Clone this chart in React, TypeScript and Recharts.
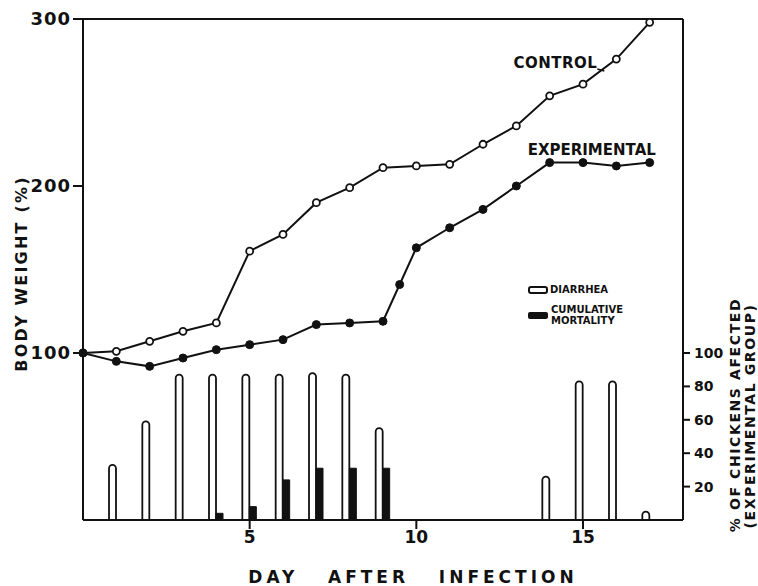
import React from 'react';
import { ComposedChart, Line, Bar, XAxis, YAxis, ReferenceLine, Legend, LabelList } from 'recharts';

const days = [0, 1, 2, 3, 4, 5, 6, 7, 8, 9, 10, 11, 12, 13, 14, 15, 16, 17];
const control = [100, 101, 107, 113, 118, 161, 171, 190, 199, 211, 212, 213, 225, 236, 254, 261, 276, 298];
const experimental = [100, 95, 92, 97, 102, 105, 108, 117, 118, 119, 163, 175, 186, 200, 214, 214, 212, 214];
// one extra reading for the experimental group between day 9 and 10
const midDay = 9.5;
const midExperimental = 141;
const diarrhea = [null, 33, 59, 87, 87, 87, 87, 88, 87, 55, null, null, null, null, 26, 83, 83, 5];
const mortality = [null, null, null, null, 4, 8, 24, 31, 31, 31, null, null, null, null, null, null, null, null];

const weightTicks = [100, 200, 300];
const affectedTicks = [20, 40, 60, 80, 100];
const dayTicks = [5, 10, 15];

const data = days.flatMap((day, i) => {
  const row = { day, control: control[i], experimental: experimental[i], diarrhea: diarrhea[i], mortality: mortality[i] };
  return day === 9 ? [row, { day: midDay, experimental: midExperimental }] : [row];
});

const controlLabelIdx = data.findIndex((d) => d.day === 16);
const expLabelIdx = data.findIndex((d) => d.day === 14);

const FONT = '"DejaVu Sans", Arial, sans-serif';
const INK = '#111';

const tickStyle = { fontFamily: FONT, fontWeight: 700, fontSize: 18, fill: INK, letterSpacing: 1 };

const pos = (p: any) => ({ x: p.viewBox?.x ?? p.x, y: p.viewBox?.y ?? p.y });

const renderLegend = () => (
  <div style={{ fontFamily: FONT, fontWeight: 700, fontSize: 10, color: INK, lineHeight: '11px' }}>
    <div style={{ display: 'flex', alignItems: 'center', marginBottom: 9 }}>
      <span style={{ width: 16, height: 4, border: '2px solid #111', borderRadius: 3, marginRight: 2 }} />
      <span>DIARRHEA</span>
    </div>
    <div style={{ display: 'flex', alignItems: 'center' }}>
      <span style={{ width: 20, height: 7, background: INK, borderRadius: 2, marginRight: 3 }} />
      <span>CUMULATIVE<br />MORTALITY</span>
    </div>
  </div>
);

const App: React.FC = () => {
  return (
    <div style={{ position: 'absolute', left: 0, top: 0, background: '#fff' }}>
      <ComposedChart
        width={758}
        height={586}
        data={data}
        margin={{ top: 19, right: 15, left: 23, bottom: 26 }}
        barSize={7}
        barGap={0}
      >
        <XAxis
          dataKey="day"
          type="number"
          domain={[0, 18]}
          ticks={dayTicks}
          height={40}
          tick={{ ...tickStyle, fontSize: 17, letterSpacing: 0 }}
          tickSize={9}
          stroke={INK}
          strokeWidth={2}
          label={{
            content: (p: any) => {
              const { x, y, width } = p.viewBox;
              return (
                <text x={x + width / 2 + 30} y={y + 63} textAnchor="middle" fontFamily={FONT} fontWeight={700}
                  fontSize={17} fill={INK} letterSpacing={4} style={{ whiteSpace: 'pre' }}>
                  {'DAY   AFTER   INFECTION'}
                </text>
              );
            },
          }}
        />
        <YAxis
          yAxisId="left"
          domain={[0, 300]}
          ticks={weightTicks}
          width={60}
          tick={tickStyle}
          tickSize={10}
          stroke={INK}
          strokeWidth={2}
          label={{
            content: (p: any) => {
              const { y, height } = p.viewBox;
              const cy = y + height / 2 + 4;
              return (
                <text x={0} y={0} transform={`translate(27, ${cy}) rotate(-90)`} textAnchor="middle"
                  fontFamily={FONT} fontWeight={700} fontSize={16} fill={INK} letterSpacing={2.2}>
                  BODY WEIGHT (%)
                </text>
              );
            },
          }}
        />
        <YAxis
          yAxisId="right"
          orientation="right"
          domain={[0, 300]}
          ticks={affectedTicks}
          width={60}
          tick={{ ...tickStyle, fontSize: 14, letterSpacing: 0 }}
          tickSize={7}
          tickMargin={4}
          stroke={INK}
          strokeWidth={2}
          label={{
            content: (p: any) => {
              const { x } = p.viewBox;
              return (
                <g fontFamily={FONT} fontWeight={700} fontSize={14} fill={INK} letterSpacing={1.6}>
                  <text transform={`translate(${x + 57}, 415) rotate(-90)`} textAnchor="middle">
                    % OF CHICKENS AFECTED
                  </text>
                  <text transform={`translate(${x + 72}, 416) rotate(-90)`} textAnchor="middle">
                    (EXPERIMENTAL GROUP)
                  </text>
                </g>
              );
            },
          }}
        />
        <ReferenceLine yAxisId="left" y={300} stroke={INK} strokeWidth={2} />
        <Legend
          layout="vertical"
          align="center"
          verticalAlign="middle"
          content={renderLegend}
          wrapperStyle={{ left: 528, top: 284, width: 'auto', height: 'auto' }}
        />
        <Bar yAxisId="right" dataKey="diarrhea" fill="#fff" stroke={INK} strokeWidth={1.8}
          radius={[4, 4, 0, 0]} isAnimationActive={false} />
        <Bar yAxisId="right" dataKey="mortality" fill={INK} stroke={INK} strokeWidth={1}
          isAnimationActive={false} />
        <Line
          yAxisId="left"
          dataKey="control"
          stroke={INK}
          strokeWidth={2}
          connectNulls
          dot={{ r: 3.5, fill: '#fff', stroke: INK, strokeWidth: 1.8 }}
          isAnimationActive={false}
        >
          <LabelList
            dataKey="control"
            content={(p: any) => {
              if (p.index !== controlLabelIdx) return null;
              const { x, y } = pos(p);
              return (
                <g>
                  <text x={x - 19} y={y + 9} textAnchor="end" fontFamily={FONT} fontWeight={700}
                    fontSize={15} fill={INK} letterSpacing={0.5}>CONTROL</text>
                  <line x1={x - 19} y1={y + 10} x2={x - 12} y2={y + 12} stroke={INK} strokeWidth={1.5} />
                </g>
              );
            }}
          />
        </Line>
        <Line
          yAxisId="left"
          dataKey="experimental"
          stroke={INK}
          strokeWidth={2}
          connectNulls
          dot={{ r: 4, fill: INK, stroke: INK, strokeWidth: 1 }}
          isAnimationActive={false}
        >
          <LabelList
            dataKey="experimental"
            content={(p: any) => {
              if (p.index !== expLabelIdx) return null;
              const { x, y } = pos(p);
              return (
                <text x={x - 22} y={y - 8} textAnchor="start" fontFamily={FONT} fontWeight={700}
                  fontSize={15} fill={INK}>EXPERIMENTAL</text>
              );
            }}
          />
        </Line>
      </ComposedChart>
    </div>
  );
};

export default App;
